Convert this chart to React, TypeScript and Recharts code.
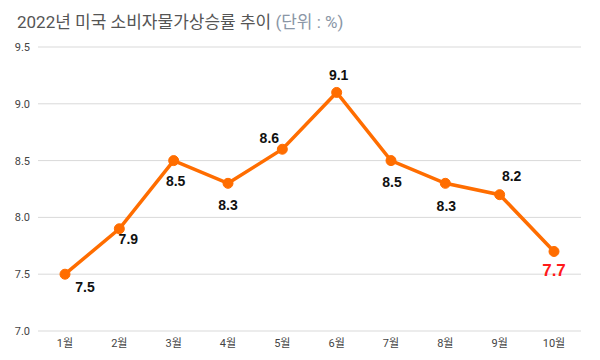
import React from 'react';
import { LineChart, Line, XAxis, YAxis, CartesianGrid, LabelList } from 'recharts';

const months = ['1월', '2월', '3월', '4월', '5월', '6월', '7월', '8월', '9월', '10월'];
const cpi = [7.5, 7.9, 8.5, 8.3, 8.6, 9.1, 8.5, 8.3, 8.2, 7.7];
const yTicks = [7.0, 7.5, 8.0, 8.5, 9.0, 9.5];

// label offsets relative to each point [dx, dy]
const labelOffsets: [number, number][] = [
  [20, 13], [9, 10], [2, 20], [0, 22], [-13, -11], [2, -17], [1, 21], [1, 23], [12, -19], [0, 19],
];

const data = months.map((m, i) => ({ month: m, value: cpi[i] }));

const PointLabel = (props: any) => {
  const { x, y, value, index } = props;
  const [dx, dy] = labelOffsets[index] || [0, -12];
  const last = index === cpi.length - 1;
  return (
    <text
      x={x + dx}
      y={y + dy}
      textAnchor="middle"
      dominantBaseline="central"
      fontFamily="'Liberation Sans', Arial, sans-serif"
      fontWeight="bold"
      fontSize={last ? 17 : 14}
      fill={last ? '#ff1a1a' : '#111'}
    >
      {Number(value).toFixed(1)}
    </text>
  );
};

export default function App() {
  return (
    <div style={{ position: 'absolute', left: 0, top: 0, width: 600, height: 360, background: '#fff' }}>
      <div
        style={{
          position: 'absolute', left: 17, top: 8, fontSize: 17, color: '#555',
          fontFamily: "Roboto, 'Noto Sans CJK KR', sans-serif", whiteSpace: 'nowrap',
        }}
      >
        2022년 미국 소비자물가상승률 추이 <span style={{ color: '#8a96a6' }}>(단위 : %)</span>
      </div>
      <LineChart width={600} height={360} data={data} margin={{ top: 47, right: 19, left: 8, bottom: 4 }}>
        <CartesianGrid vertical={false} stroke="#d9d9d9" />
        <XAxis
          dataKey="month"
          axisLine={false}
          tickLine={false}
          height={25}
          padding={{ left: 27, right: 27 }}
          tick={{ fontSize: 11, fill: '#444', fontFamily: "Roboto, 'Noto Sans CJK KR', sans-serif" }}
        />
        <YAxis
          domain={[7, 9.5]}
          ticks={yTicks}
          width={30}
          axisLine={false}
          tickLine={false}
          tickFormatter={(v: number) => v.toFixed(1)}
          tick={{ fontSize: 11, fill: '#444', fontFamily: 'Roboto, sans-serif' }}
        />
        <Line
          type="linear"
          dataKey="value"
          stroke="#ff6d00"
          strokeWidth={3.5}
          dot={{ r: 5, fill: '#ff6d00', stroke: '#ff6d00', strokeWidth: 1 }}
          activeDot={false}
          isAnimationActive={false}
        >
          <LabelList dataKey="value" content={<PointLabel />} />
        </Line>
      </LineChart>
    </div>
  );
}
